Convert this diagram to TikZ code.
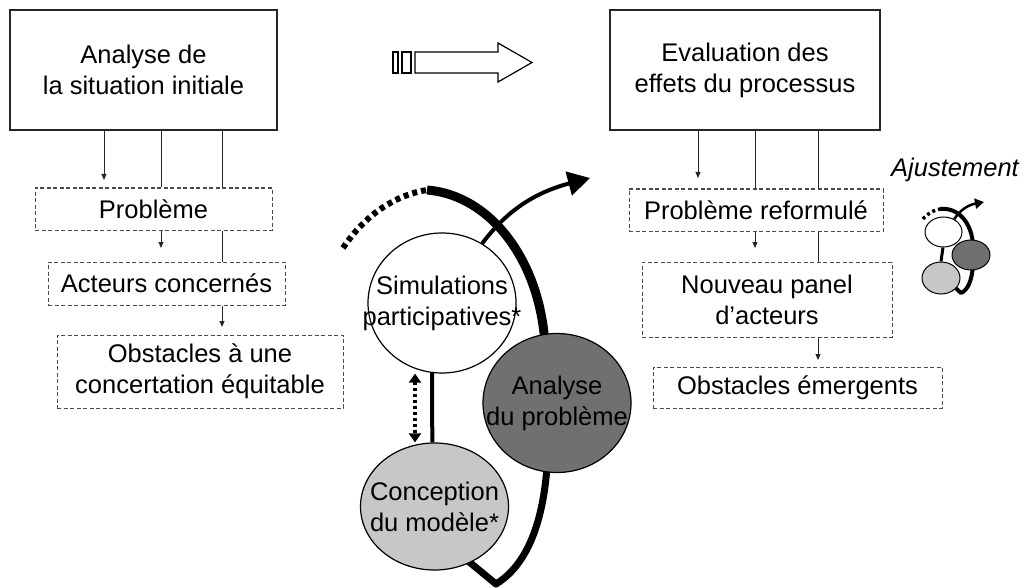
\documentclass[tikz,border=0pt]{standalone}
\usepackage{fontspec}
\setmainfont{Liberation Sans}
\usetikzlibrary{arrows.meta,shapes.geometric}

\begin{document}
\begin{tikzpicture}[x=1pt, y=-1pt, font=\fontsize{25.5}{31}\selectfont,
    box/.style={draw=black!85, line width=1.2pt, align=center, inner sep=0pt},
    dbox/.style={draw=black!70, line width=1pt, dash pattern=on 4pt off 2.5pt, align=center, inner sep=0pt},
    link/.style={line width=0.9pt, draw=black!85},
    arr/.style={link, -{Triangle[length=6pt, width=5pt]}},
    bubble/.style={ellipse, draw, line width=1.2pt, inner sep=0pt, minimum width=148, label={[align=center]center:#1}},
    mini/.style={ellipse, draw, line width=1pt, inner sep=0pt}]
  \useasboundingbox (0,0) rectangle (1027,588);

  \node[box, minimum width=267, minimum height=120] (ana) at (143.5,70) {Analyse de\\la situation initiale};
  \node[box, minimum width=270, minimum height=120] (eva) at (745,70) {Evaluation des\\effets du processus};
  \node[dbox, minimum width=237, minimum height=42] (pb) at (153.5,209) {Problème};
  \node[dbox, minimum width=237, minimum height=43] (act) at (166.5,283.5) {Acteurs concernés};
  \node[dbox, minimum width=286, minimum height=73] (obs) at (200,371.5) {Obstacles à une\\concertation équitable};
  \node[dbox, minimum width=254, minimum height=42] (pbr) at (756,210) {Problème reformulé};
  \node[dbox, minimum width=250, minimum height=75] (pan) at (767,299.5) {Nouveau panel\\d’acteurs};
  \node[dbox, minimum width=289, minimum height=41] (obe) at (797.5,387.5) {Obstacles émergents};

  \draw[arr] (ana.south -| 104,0) -- (104,180);
  \foreach \x in {161,222} {
    \draw[link] (ana.south -| \x,0) -- (pb.north -| \x,0);
  }
  \draw[arr] (pb.south -| 161,0) -- (161,248);
  \draw[link] (pb.south -| 222,0) -- (act.north -| 222,0);
  \draw[arr] (act.south -| 222,0) -- (222,327);

  \draw[arr] (eva.south -| 698,0) -- (698,178);
  \foreach \x in {755,818} {
    \draw[link] (eva.south -| \x,0) -- (pbr.north -| \x,0);
  }
  \draw[arr] (pbr.south -| 755,0) -- (755,248);
  \draw[link] (pbr.south -| 818,0) -- (pan.north -| 818,0);
  \draw[arr] (pan.south -| 818,0) -- (818,360);

  % block arrow
  \draw[line width=1.2pt] (393,52) rectangle (398,73) (402,52) rectangle (411,73);
  \draw[line width=1.2pt] (415,52) -- (498,52) -- (498,43) -- (532,62.5) -- (498,82) -- (498,73) -- (415,73) -- cycle;

  % cycle
  \draw[line width=6pt, dash pattern=on 5pt off 4pt] (343,248) .. controls (365,215) and (395,195) .. (427,190);
  \draw[line width=9pt] (427,190) .. controls (490,195) and (540,260) .. (545,345) -- (548,420);
  \draw[line width=7pt, line join=round] (548,420) .. controls (550,500) and (535,560) .. (496,584) -- (462,556);

  \node[bubble={Simulations\\participatives*}, fill=white, minimum height=140] (sim) at (442,303) {};
  \node[bubble={Analyse\\du problème}, fill=black!56, minimum height=139] (pro) at (557,403) {};
  \node[bubble={Conception\\du modèle*}, fill=black!22, minimum height=127] (con) at (434.5,506.5) {};

  \draw[line width=4pt, -{Triangle[length=22pt, width=24pt]}] (sim.56) .. controls (500,220) and (525,195) .. (590,178);
  \draw[line width=4pt] (sim.262) -- (con.92);
  \draw[line width=4pt, dash pattern=on 3pt off 3pt, {Triangle[length=9pt, width=12pt]}-{Triangle[length=9pt, width=12pt]}] (sim.south -| 415,0) -- (con.north -| 415,0);

  % ajustement
  \node[font=\fontsize{25.5}{31}\selectfont\itshape] (adj) at (955,170) {Ajustement};
  \draw[line width=3.5pt, dash pattern=on 3pt off 3pt] (923,219) .. controls (928,213) and (934,210) .. (940,209);
  \draw[line width=4pt, line join=round] (940,209) .. controls (960,207) and (972,225) .. (973,245) -- (973,265) .. controls (972,280) and (968,290) .. (961,293) -- (950,283);
  \node[mini, fill=white, minimum width=37, minimum height=30] (iw) at (943.5,232) {};
  \node[mini, fill=black!56, minimum width=38, minimum height=30] (id) at (971,255) {};
  \node[mini, fill=black!22, minimum width=38, minimum height=32] (il) at (941,278) {};
  \draw[line width=2.5pt, -{Triangle[length=9pt, width=10pt]}] (iw.50) .. controls (960,210) and (968,205) .. (984,202);
  \draw[line width=3pt] (iw.268) -- (il.90);
\end{tikzpicture}
\end{document}
